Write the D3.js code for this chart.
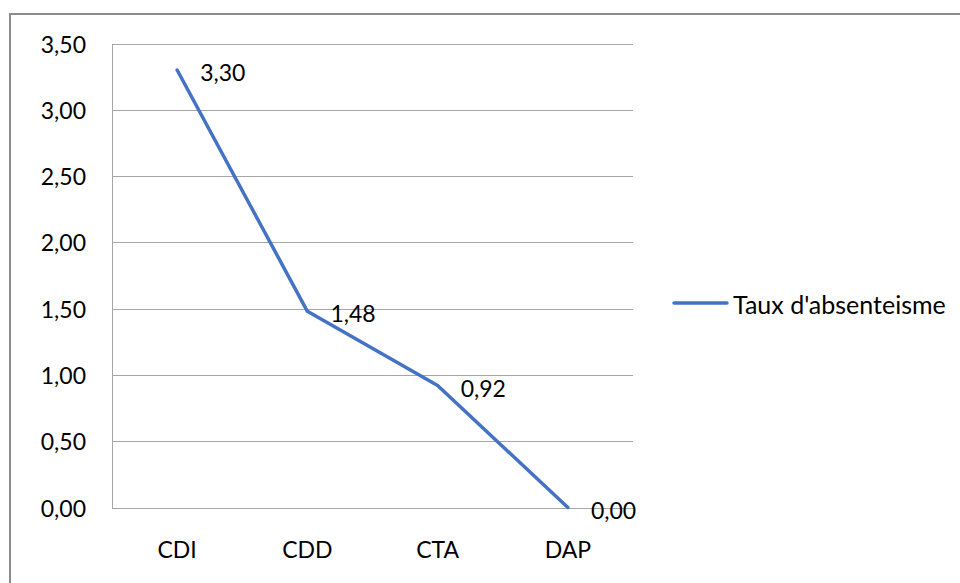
<!DOCTYPE html>
<html>
<head>
<meta charset="utf-8">
<script src="https://cdn.jsdelivr.net/npm/d3@7/dist/d3.min.js"></script>
<style>
  html, body { margin: 0; padding: 0; background: #fff; }
  svg { display: block; }
  text { font-family: Lato, "Open Sans", sans-serif; fill: #000; }
</style>
</head>
<body>
<svg id="chart" width="960" height="583"></svg>
<script>
// Absenteeism rate by contract type
const categories = ["CDI", "CDD", "CTA", "DAP"];
const rates = [3.30, 1.48, 0.92, 0.00];
const yTicks = [0, 0.5, 1, 1.5, 2, 2.5, 3, 3.5];
const seriesName = "Taux d'absenteisme";

const fmt = v => v.toFixed(2).replace(".", ",");

const svg = d3.select("#chart");
const W = 960, H = 583;
const plot = { left: 112, right: 633, top: 43.5, bottom: 507.5 };
const fs = 23;

// outer frame (extends past right and bottom edges)
svg.append("rect")
  .attr("x", 10).attr("y", 14)
  .attr("width", W + 20).attr("height", H + 20)
  .attr("fill", "#fff")
  .attr("stroke", "#8c8c8c")
  .attr("stroke-width", 2);

const x = d3.scaleBand().domain(categories).range([plot.left, plot.right]);
const y = d3.scaleLinear().domain([0, 3.5]).range([plot.bottom, plot.top]);

// horizontal gridlines
svg.append("g").selectAll("line").data(yTicks).join("line")
  .attr("x1", plot.left).attr("x2", plot.right)
  .attr("y1", d => Math.round(y(d)) + 0.5).attr("y2", d => Math.round(y(d)) + 0.5)
  .attr("stroke", "#a6a6a6").attr("stroke-width", 1);

// vertical axis line
svg.append("line")
  .attr("x1", plot.left + 0.5).attr("x2", plot.left + 0.5)
  .attr("y1", Math.round(y(3.5)) + 0.5).attr("y2", Math.round(y(0)) + 0.5)
  .attr("stroke", "#a6a6a6").attr("stroke-width", 1);

// y tick labels
svg.append("g").selectAll("text").data(yTicks).join("text")
  .attr("x", 86).attr("y", d => y(d))
  .attr("text-anchor", "end").attr("dominant-baseline", "central")
  .attr("font-size", fs)
  .text(fmt);

// category labels
svg.append("g").selectAll("text").data(categories).join("text")
  .attr("x", d => x(d) + x.bandwidth() / 2).attr("y", 549)
  .attr("text-anchor", "middle").attr("dominant-baseline", "central")
  .attr("font-size", fs)
  .text(d => d);

const pts = categories.map((c, i) => ({ c, v: rates[i] }));
const line = d3.line()
  .x(d => x(d.c) + x.bandwidth() / 2)
  .y(d => y(d.v));

svg.append("path").datum(pts)
  .attr("d", line)
  .attr("fill", "none")
  .attr("stroke", "#4472C4")
  .attr("stroke-width", 3.5)
  .attr("stroke-linejoin", "round")
  .attr("stroke-linecap", "round");

// value labels
svg.append("g").selectAll("text").data(pts).join("text")
  .attr("x", d => x(d.c) + x.bandwidth() / 2 + 23)
  .attr("y", d => y(d.v) + 2)
  .attr("dominant-baseline", "central")
  .attr("font-size", fs)
  .text(d => fmt(d.v));

// legend
svg.append("line")
  .attr("x1", 674).attr("x2", 727)
  .attr("y1", 303).attr("y2", 303)
  .attr("stroke", "#4472C4").attr("stroke-width", 3.5)
  .attr("stroke-linecap", "round");
svg.append("text")
  .attr("x", 733).attr("y", 304)
  .attr("dominant-baseline", "central")
  .attr("font-size", 25)
  .text(seriesName);
</script>
</body>
</html>
